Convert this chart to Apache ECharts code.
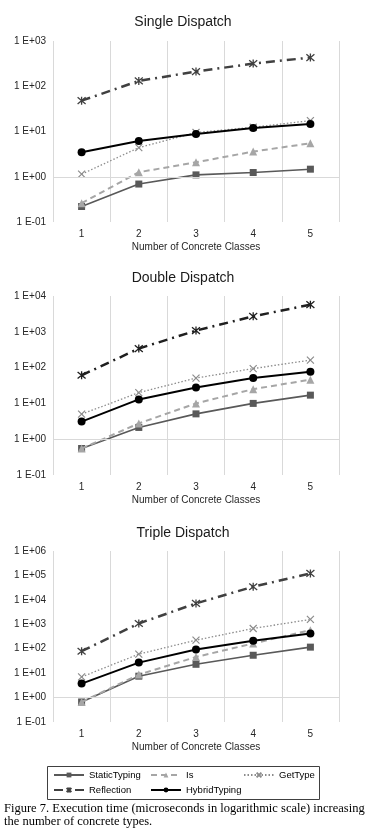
<!DOCTYPE html>
<html>
<head>
<meta charset="utf-8">
<script src="https://cdn.jsdelivr.net/npm/echarts@6/dist/echarts.min.js"></script>
<style>
html,body{margin:0;padding:0;background:#fff;}
#c{width:378px;height:838px;}
</style>
</head>
<body>
<div id="c"></div>
<script>
// ---- data ----
const categories = ['1', '2', '3', '4', '5'];
const seriesNames = ['StaticTyping', 'Is', 'GetType', 'Reflection', 'HybridTyping'];
const chartTitles = ['Single Dispatch', 'Double Dispatch', 'Triple Dispatch'];
const xAxisName = 'Number of Concrete Classes';

const single_static = [0.22, 0.69, 1.1, 1.24, 1.47];
const single_is = [0.26, 1.26, 2.09, 3.6, 5.5];
const single_getType = [1.14, 4.4, 9.5, 12.4, 17.4];
const single_reflection = [48, 131, 211, 317, 430];
const single_hybrid = [3.48, 6.2, 8.8, 12.0, 14.7];

const double_static = [0.55, 2.13, 5.1, 10, 17];
const double_is = [0.55, 2.76, 10, 25, 46];
const double_getType = [5.0, 20, 51, 94, 161];
const double_reflection = [61, 340, 1080, 2710, 5730];
const double_hybrid = [3.1, 12.9, 27.8, 51, 76];

const triple_static = [0.66, 7.5, 23, 54, 116];
const triple_is = [0.66, 8.7, 46, 164, 576];
const triple_getType = [7.0, 60, 224, 674, 1580];
const triple_reflection = [79, 1080, 7150, 34500, 121000];
const triple_hybrid = [3.74, 27, 93, 210, 421];

const yMin = [0.1, 0.1, 0.1];
const yMax = [1000, 10000, 1000000];

const caption1 = 'Figure 7. Execution time (microseconds in logarithmic scale) increasing';
const caption2 = 'the number of concrete types.';

// ---- layout / styles ----
const grids = [
  {left: 53, right: 39, top: 41, height: 181},
  {left: 53, right: 39, top: 296, height: 179},
  {left: 53, right: 39, top: 551, height: 171}
];
const titleTops = [10, 266, 521];
const FONT = '"Liberation Sans", Arial, sans-serif';

const X_PATH = 'path://M0,0L10,10M10,0L0,10';
const AST_PATH = 'path://M0,0L10,10M10,0L0,10M5,-1L5,11';

function styleFor(name, chartIdx) {
  switch (name) {
    case 'StaticTyping':
      return {color: '#595959', lineStyle: {color: '#595959', width: 1.6, type: 'solid'},
        symbol: 'rect', symbolSize: 7, itemStyle: {color: '#595959'}};
    case 'Is':
      return {color: '#a6a6a6', lineStyle: {color: '#a6a6a6', width: 2, type: [6, 4]},
        symbol: 'triangle', symbolSize: 8, itemStyle: {color: '#a6a6a6'}};
    case 'GetType':
      return {color: '#8c8c8c', lineStyle: {color: '#8c8c8c', width: 1.3, type: [1.5, 2]},
        symbol: X_PATH, symbolSize: 7, itemStyle: {color: 'rgba(0,0,0,0)', borderColor: '#8c8c8c', borderWidth: 1.2}};
    case 'Reflection': {
      const c = chartIdx === 1 ? '#1f1f1f' : '#404040';
      return {color: c, lineStyle: {color: c, width: 2.5, type: [9, 5, 2, 5]},
        symbol: AST_PATH, symbolSize: 8, itemStyle: {color: 'rgba(0,0,0,0)', borderColor: c, borderWidth: 1.3}};
    }
    case 'HybridTyping':
      return {color: '#000', lineStyle: {color: '#000', width: 2, type: 'solid'},
        symbol: 'circle', symbolSize: 8, itemStyle: {color: '#000'}};
  }
}

const allData = [
  [single_static, single_is, single_getType, single_reflection, single_hybrid],
  [double_static, double_is, double_getType, double_reflection, double_hybrid],
  [triple_static, triple_is, triple_getType, triple_reflection, triple_hybrid]
];

function fmtLog(v) {
  const e = Math.round(Math.log10(v));
  return '1 E' + (e < 0 ? '-' : '+') + String(Math.abs(e)).padStart(2, '0');
}

const title = [], xAxis = [], yAxis = [], series = [];
for (let i = 0; i < 3; i++) {
  title.push({
    text: chartTitles[i], left: 178, top: titleTops[i], textAlign: 'center',
    textStyle: {fontFamily: FONT, fontSize: 14, fontWeight: 'normal', color: '#1a1a1a'}
  });
  xAxis.push({
    type: 'category', gridIndex: i, data: categories, boundaryGap: true,
    axisLine: {show: false}, axisTick: {show: false},
    axisLabel: {color: '#262626', fontFamily: FONT, fontSize: 10, margin: 7},
    splitLine: {show: true, interval: 0, lineStyle: {color: '#d9d9d9', width: 1}},
    name: xAxisName, nameLocation: 'middle', nameGap: 20,
    nameTextStyle: {color: '#262626', fontFamily: FONT, fontSize: 10}
  });
  yAxis.push({
    type: 'log', logBase: 10, gridIndex: i, min: yMin[i], max: yMax[i], interval: 1,
    axisLine: {show: false}, axisTick: {show: false}, splitLine: {show: false},
    axisLabel: {color: '#262626', fontFamily: FONT, fontSize: 10, margin: 7, formatter: fmtLog}
  });
  seriesNames.forEach((name, k) => {
    const s = Object.assign({
      type: 'line', name: name, xAxisIndex: i, yAxisIndex: i,
      data: allData[i][k], showSymbol: true, animation: false, z: 2 + k
    }, styleFor(name, i));
    if (k === 0) {
      s.markLine = {
        silent: true, symbol: 'none', label: {show: false}, animation: false,
        lineStyle: {color: '#d9d9d9', width: 1, type: 'solid'},
        data: [{yAxis: 1}]
      };
    }
    series.push(s);
  });
}

const legendText = {fontFamily: FONT, fontSize: 9.5, color: '#000'};
function mkLegend(name, left, top) {
  return {data: [name], left: left, top: top, itemWidth: 30, itemHeight: 6, itemGap: 5,
    textStyle: legendText, selectedMode: false, padding: 0};
}
const legend = [
  mkLegend('StaticTyping', 53, 770),
  mkLegend('Is', 150, 770),
  mkLegend('GetType', 243, 770),
  mkLegend('Reflection', 53, 785),
  mkLegend('HybridTyping', 150, 785)
];

const chart = echarts.init(document.getElementById('c'), null, {renderer: 'canvas'});
chart.setOption({
  animation: false,
  backgroundColor: '#fff',
  title: title,
  grid: grids,
  xAxis: xAxis,
  yAxis: yAxis,
  legend: legend,
  series: series,
  graphic: [
    {type: 'rect', shape: {x: 47.5, y: 766.5, width: 272, height: 33},
      style: {fill: 'none', stroke: '#404040', lineWidth: 1}, z: 0},
    {type: 'text', left: 4, top: 802,
      style: {text: caption1, font: '12.5px "Liberation Serif", "Times New Roman", serif', fill: '#000'}},
    {type: 'text', left: 4, top: 815,
      style: {text: caption2, font: '12.5px "Liberation Serif", "Times New Roman", serif', fill: '#000'}}
  ]
});
</script>
</body>
</html>
